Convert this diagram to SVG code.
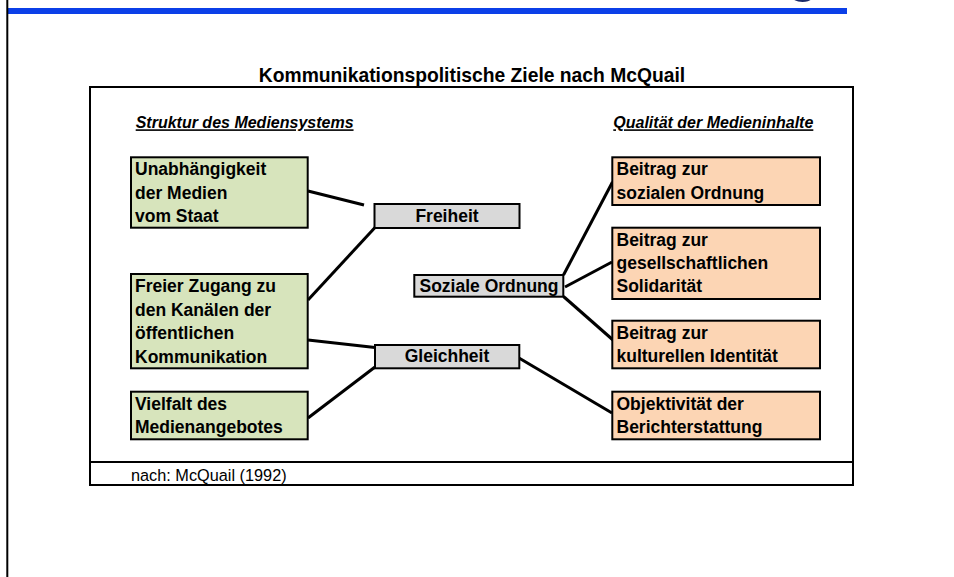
<svg xmlns="http://www.w3.org/2000/svg" width="954" height="577" viewBox="0 0 954 577">
<style>
.node rect{stroke:#000;stroke-width:2}
.g rect{fill:#d7e4bc}
.o rect{fill:#fcd5b4}
.c rect{fill:#d9d9d9}
.nt{font-family:"Liberation Sans",Arial,sans-serif;font-weight:bold;font-size:17.5px;fill:#000}
.hd{font-family:"Liberation Sans",Arial,sans-serif;font-weight:bold;font-style:italic;font-size:16px;text-decoration:underline;fill:#000}
#connectors line{stroke:#000;stroke-width:3;stroke-linecap:butt}
</style>
<rect width="954" height="577" fill="#fff"/>
<text x="788" y="-8.5" font-family="Liberation Sans,Arial,sans-serif" font-weight="bold" font-size="50" fill="#1a2a6b">g</text>
<rect x="8" y="8" width="839" height="6" fill="#0b3fe8"/>
<line x1="7.3" y1="0" x2="7.3" y2="577" stroke="#000" stroke-width="2"/>
<text x="472" y="82" text-anchor="middle" font-family="Liberation Sans,Arial,sans-serif" font-weight="bold" font-size="19.3">Kommunikationspolitische Ziele nach McQuail</text>
<g id="frame" fill="none" stroke="#000" stroke-width="2">
<rect x="90" y="87" width="763" height="398" fill="#fff"/>
<line x1="90" y1="462" x2="853" y2="462"/>
</g>
<text x="131" y="480.5" font-family="Liberation Sans,Arial,sans-serif" font-size="16.3">nach: McQuail (1992)</text>
<text class="hd" x="135.7" y="128.3">Struktur des Mediensystems</text>
<text class="hd" x="613.3" y="128.3">Qualität der Medieninhalte</text>
<g id="connectors">
<line x1="308" y1="191" x2="364" y2="205"/>
<line x1="375" y1="227.5" x2="308" y2="300"/>
<line x1="308" y1="340" x2="375" y2="347.5"/>
<line x1="375" y1="367" x2="308" y2="418"/>
<line x1="563.5" y1="275" x2="612.5" y2="182"/>
<line x1="565" y1="287" x2="612" y2="262"/>
<line x1="563.5" y1="296.5" x2="613" y2="340"/>
<line x1="519" y1="358" x2="612" y2="413"/>
</g>
<g id="n-unabh" class="node g"><rect x="131" y="157.3" width="176.7" height="70.4"/>
<text class="nt" x="135" y="175">Unabhängigkeit</text><text class="nt" x="135" y="198.5">der Medien</text><text class="nt" x="135" y="222">vom Staat</text></g>
<g id="n-zugang" class="node g"><rect x="131" y="274" width="176.7" height="94.3"/>
<text class="nt" x="135" y="292">Freier Zugang zu</text><text class="nt" x="135" y="315.5">den Kanälen der</text><text class="nt" x="135" y="339">öffentlichen</text><text class="nt" x="135" y="362.5">Kommunikation</text></g>
<g id="n-vielfalt" class="node g"><rect x="131" y="391.7" width="176.7" height="47.6"/>
<text class="nt" x="135" y="409.5">Vielfalt des</text><text class="nt" x="135" y="433">Medienangebotes</text></g>
<g id="n-freiheit" class="node c"><rect x="374.5" y="204" width="145" height="24"/>
<text class="nt" x="447" y="221.7" text-anchor="middle">Freiheit</text></g>
<g id="n-soziale" class="node c"><rect x="414.3" y="275" width="149" height="21.7"/>
<text class="nt" x="489" y="291.7" text-anchor="middle">Soziale Ordnung</text></g>
<g id="n-gleichheit" class="node c"><rect x="375" y="345" width="144.3" height="23.3"/>
<text class="nt" x="447" y="362.3" text-anchor="middle">Gleichheit</text></g>
<g id="n-beitrag-soz" class="node o"><rect x="612.3" y="157.3" width="207.7" height="47.7"/>
<text class="nt" x="616.5" y="175">Beitrag zur</text><text class="nt" x="616.5" y="198.5">sozialen Ordnung</text></g>
<g id="n-beitrag-ges" class="node o"><rect x="612.3" y="227.7" width="207.7" height="71.3"/>
<text class="nt" x="616.5" y="245.5">Beitrag zur</text><text class="nt" x="616.5" y="268.5">gesellschaftlichen</text><text class="nt" x="616.5" y="291.5">Solidarität</text></g>
<g id="n-beitrag-kult" class="node o"><rect x="612.3" y="320.7" width="207.7" height="47.6"/>
<text class="nt" x="616.5" y="339">Beitrag zur</text><text class="nt" x="616.5" y="362">kulturellen Identität</text></g>
<g id="n-objektiv" class="node o"><rect x="612.3" y="391.7" width="207.7" height="47.6"/>
<text class="nt" x="616.5" y="409.5">Objektivität der</text><text class="nt" x="616.5" y="432.5">Berichterstattung</text></g>
</svg>
